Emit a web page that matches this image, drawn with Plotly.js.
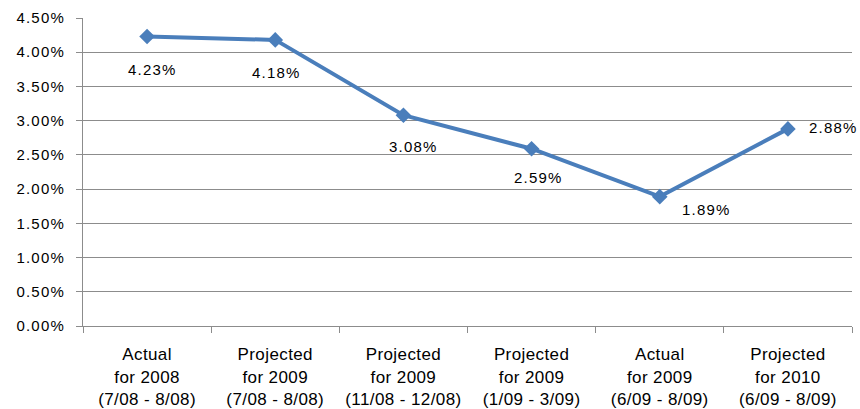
<!DOCTYPE html>
<html>
<head>
<meta charset="utf-8">
<script src="https://cdn.plot.ly/plotly-3.0.1.min.js"></script>
<style>
  html, body { margin: 0; padding: 0; background: #fff; }
  #chart { width: 860px; height: 409px; }
  .ytick text, .annotation-text { letter-spacing: 1.2px; }
  .xtick text { letter-spacing: 0.4px; }
</style>
</head>
<body>
<div id="chart"></div>
<script>
// Period labels along the x axis
const periods = [
  'Actual<br>for 2008<br>(7/08 - 8/08)',
  'Projected<br>for 2009<br>(7/08 - 8/08)',
  'Projected<br>for 2009<br>(11/08 - 12/08)',
  'Projected<br>for 2009<br>(1/09 - 3/09)',
  'Actual<br>for 2009<br>(6/09 - 8/09)',
  'Projected<br>for 2010<br>(6/09 - 8/09)'
];

// Rate for each period, in percent
const rates = [4.23, 4.18, 3.08, 2.59, 1.89, 2.88];

// Y axis ticks, in percent
const yTicks = [0, 0.5, 1, 1.5, 2, 2.5, 3, 3.5, 4, 4.5];

// Pixel offset of each value label from its point
const labelShiftX = [5, 1, 10, 7, 47, 46];
const labelShiftY = [-33, -33, -31, -29, -13, 1];

const fontFamily = 'Arial, "Liberation Sans", sans-serif';
const lineBlue = '#4A7EBB';

const trace = {
  type: 'scatter',
  mode: 'lines+markers',
  x: periods,
  y: rates,
  line: { color: lineBlue, width: 4 },
  marker: { symbol: 'diamond', size: 12, color: lineBlue },
  hoverinfo: 'skip',
  cliponaxis: false
};

const annotations = rates.map((v, i) => ({
  x: periods[i],
  y: v,
  xref: 'x',
  yref: 'y',
  text: v.toFixed(2) + '%',
  showarrow: false,
  xanchor: 'center',
  yanchor: 'middle',
  xshift: labelShiftX[i],
  yshift: labelShiftY[i],
  font: { family: fontFamily, size: 15, color: '#000' }
}));

const layout = {
  width: 860,
  height: 409,
  margin: { l: 83, r: 8, t: 18, b: 83 },
  paper_bgcolor: '#fff',
  plot_bgcolor: '#fff',
  showlegend: false,
  font: { family: fontFamily, color: '#000' },
  xaxis: {
    type: 'category',
    tickson: 'boundaries',
    ticks: 'outside',
    ticklen: 6,
    tickcolor: '#8c8c8c',
    showline: true,
    linecolor: '#8c8c8c',
    linewidth: 1,
    showgrid: false,
    tickfont: { family: fontFamily, size: 17, color: '#000' },
    ticklabelstandoff: 13,
    range: [-0.5, 5.5],
    fixedrange: true
  },
  yaxis: {
    range: [0, 4.5],
    tickvals: yTicks,
    ticktext: yTicks.map(t => t.toFixed(2) + '%'),
    ticks: 'outside',
    ticklen: 6,
    tickcolor: '#8c8c8c',
    showline: true,
    linecolor: '#8c8c8c',
    linewidth: 1,
    showgrid: true,
    gridcolor: '#8c8c8c',
    gridwidth: 1,
    zeroline: false,
    tickfont: { family: fontFamily, size: 15, color: '#000' },
    ticklabelstandoff: 8,
    fixedrange: true
  },
  annotations: annotations
};

Plotly.newPlot('chart', [trace], layout, { displayModeBar: false, staticPlot: true });
</script>
</body>
</html>
